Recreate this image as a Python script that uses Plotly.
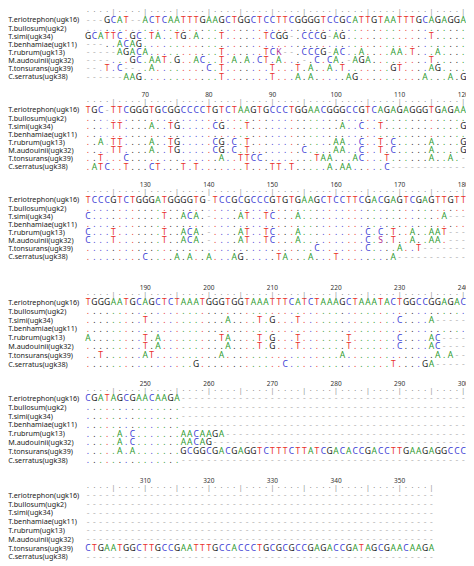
import plotly.graph_objects as go

species = [
    "T.eriotrephon(ugk16)", "T.bullosum(ugk2)", "T.simi(ugk34)", "T.benhamiae(ugk11)",
    "T.rubrum(ugk13)", "M.audouinii(ugk32)", "T.tonsurans(ugk39)", "C.serratus(ugk38)",
]

block1 = [
    "---GCAT--ACTCAATTTGAAGCTGGCTCCTTCGGGGTCCGCATTGTAATTTGCAGAGGA",
    "." * 60,
    "GCATTC.GC.TA..TG.A...T......TCGG-.CCCG-AG.............T.....",
    "---..ACAG" + "." * 51,
    "-----AGACA...........T......TCK--.CCCG-AC..A....AA.T...A....",
    "----...GC.AAT.G..AC..T.A.A.CT.A...-.C.CA.-AGA.........T.....",
    "--.T.C--..A........C.T.......T...T.A..A.T.......GT....AG....",
    "------AAG............T.......T...A.A.....AG..........A...A.G",
]
block2 = [
    "TGC-TTCGGGTGCGGCCCCTGTCTAAGTGCCCTGGAACGGGCCGTCAGAGAGGGTGAGAA",
    "." * 60,
    "....TT....A..TG.....CG...T" + "." * 14 + "A..C..T" + "." * 12 + "G",
    "." * 60,
    "..A.TT....A..TG.....CG.C.T" + "." * 13 + "AA..C..T.C" + "." * 5 + "A" + "." * 4 + "G",
    "....TT....A..TG.....CG.C.T" + "." * 8 + "C...." + "AA..C..T.C" + "." * 5 + "A" + "." * 4 + "G",
    "..T...C" + "." * 14 + "A..TTCC" + "." * 8 + "TAA...AC...T......A..A.",
    ".ATC..T...CT...T.T.......T...TT.T.....A.AA.....C",
]
block3 = [
    "TCCCGTCTGGGATGGGGTG-TCCGCGCCCGTGTGAAGCTCCTTCGACGAGTCGAGTTGTT",
    "." * 60,
    "C" + "." * 11 + "T..ACA.-....AT..TC...A" + "." * 22 + "A",
    "." * 60,
    "C...T......." + "T..ACA.-....AT..TC...A" + "." * 10 + "C.C.T..A..AAT",
    "C...T......." + "T..ACA.-....AT..TC...A" + "." * 10 + "C.S.T..A..AA.",
    "." * 36 + "C" + "." * 7 + "C" + "." * 4 + "A" + "..T",
    "." * 9 + "C....A.A..A...AG.....TA...A...T" + "." * 8 + "A",
]
block4 = [
    "TGGGAATGCAGCTCTAAATGGGTGGTAAATTTCATCTAAAGCTAAATACTGGCCGGAGAC",
    "." * 60,
    "." * 9 + "T" + "." * 12 + "A....T.G...T" + "." * 15 + "C....A",
    "." * 60,
    "A" + "." * 8 + "T.A" + "." * 9 + "TA....T.G...T" + "." * 7 + "T" + "." * 7 + "C....AC",
    "." * 9 + "T.A" + "." * 10 + "A....T.G...T" + "." * 7 + "T" + "." * 7 + "C....AC",
    "..T......AT" + "." * 10 + "A" + "." * 18 + "A" + "." * 14 + "A.A",
    "." * 17 + "G" + "." * 13 + "C" + "." * 16 + "T....GA",
]
block5 = [
    "CGATAGCGAACAAGA",
    "." * 15,
    "." * 15,
    "." * 15,
    ".....A.C.......AACAAGA",
    ".....A.C.......AACAG",
    ".....A.A.......GCGGCGACGAGGTCTTTCTTATCGACACCGACCTTGAAGAGGCCC",
    "." * 15,
]
block6 = [
    "", "", "", "", "", "",
    "CTGAATGGCTTGCCGAATTTGCCACCCTGCGCGCCGAGACCGATAGCGAACAAGA",
    "",
]
blocks = [block1, block2, block3, block4, block5, block6]
block_start = [1, 61, 121, 181, 241, 301]
block_len = [60, 60, 60, 60, 60, 55]

# layout: y in page pixels, x in alignment columns
block_top = [20.7, 110.7, 200.7, 303.3, 399.3, 496.0]
row_step = [8.1, 8.1, 8.1, 8.8, 8.8, 8.8]

base_color = {"A": "#2e9a2e", "C": "#3b3bd4", "G": "#222222", "T": "#e8302a"}

fig = go.Figure()
for b, seqs in enumerate(blocks):
    n = block_len[b]
    ref = seqs[0].ljust(n, "-")[:n] if b < 5 else seqs[6]
    xs, ys, ts, cs = [], [], [], []
    for r, s in enumerate(seqs):
        s = s.ljust(n, "-")[:n]
        y = block_top[b] + r * row_step[b]
        for c, ch in enumerate(s):
            xs.append(c + 1)
            ys.append(y)
            ts.append(ch)
            if ch == "-":
                cs.append("#b8b8b8")
            elif ch == ".":
                cs.append(base_color.get(ref[c], "#9a9ad8"))
            else:
                cs.append(base_color.get(ch, "#b03090"))
    fig.add_trace(go.Scatter(
        x=xs, y=ys, text=ts, mode="text", textposition="middle center",
        textfont=dict(family="Noto Sans", size=8.5, color=cs),
        hoverinfo="skip", showlegend=False,
    ))
    fig.add_trace(go.Scatter(
        x=[-11.55] * len(species),
        y=[block_top[b] + r * row_step[b] for r in range(len(species))],
        text=species, mode="text", textposition="middle right",
        textfont=dict(family="Noto Sans", size=7.2, color="#222"),
        hoverinfo="skip", showlegend=False,
    ))
    cols = list(range(1, n + 1))
    ticks = ["|" if (block_start[b] + c - 1) % 5 == 0 else "·" for c in cols]
    fig.add_trace(go.Scatter(
        x=cols, y=[block_top[b] - 8] * n, text=ticks, mode="text",
        textfont=dict(family="Noto Sans", size=7, color="#888"),
        hoverinfo="skip", showlegend=False,
    ))
    num_cols = [c for c in cols if (block_start[b] + c - 1) % 10 == 0]
    fig.add_trace(go.Scatter(
        x=num_cols, y=[block_top[b] - 15] * len(num_cols),
        text=[str(block_start[b] + c - 1) for c in num_cols], mode="text",
        textfont=dict(family="Noto Sans", size=6.5, color="#333"),
        hoverinfo="skip", showlegend=False,
    ))

# page body has an 8px margin, so the figure is 8px smaller and ranges start there
fig.update_layout(
    width=466, height=558, margin=dict(l=0, r=0, t=0, b=0),
    plot_bgcolor="white", paper_bgcolor="white",
    xaxis=dict(range=[-11.58, 61.69], visible=False, fixedrange=True),
    yaxis=dict(range=[566, 8], visible=False, fixedrange=True),
)
fig.write_html("out.html")
